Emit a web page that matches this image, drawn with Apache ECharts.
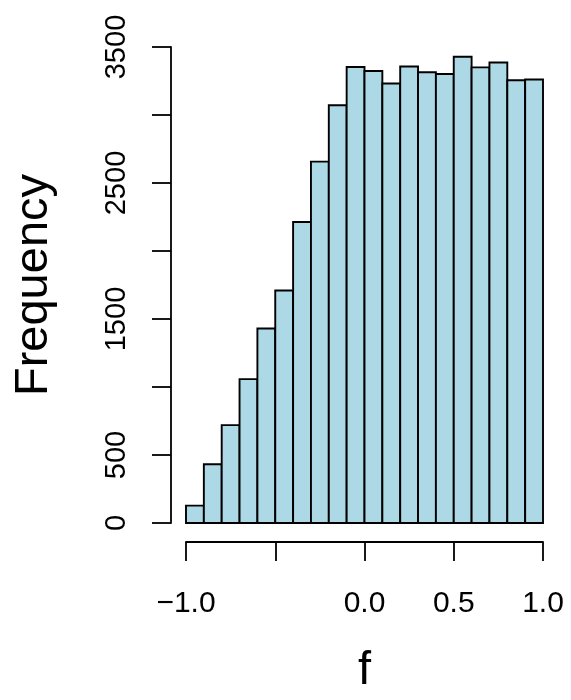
<!DOCTYPE html>
<html>
<head>
<meta charset="utf-8">
<title>Histogram of f</title>
<script src="https://cdn.jsdelivr.net/npm/echarts@6/dist/echarts.min.js"></script>
<style>
  html, body { margin: 0; padding: 0; background: #fff; }
  #chart { width: 571px; height: 700px; }
</style>
</head>
<body>
<div id="chart"></div>
<script>
// Histogram bins of f (width 0.1) and their counts
const binEdges = [-1.0, -0.9, -0.8, -0.7, -0.6, -0.5, -0.4, -0.3, -0.2, -0.1, 0.0,
                  0.1, 0.2, 0.3, 0.4, 0.5, 0.6, 0.7, 0.8, 0.9, 1.0];
const counts = [128, 432, 720, 1058, 1430, 1710, 2213, 2657, 3072, 3353,
                3324, 3232, 3357, 3314, 3302, 3428, 3350, 3386, 3256, 3261];

// Ticks that carry a printed label (the others stay bare)
const xTickLabels = [-1.0, 0.0, 0.5, 1.0];
const yTickLabels = [0, 500, 1500, 2500, 3500];

const FONT = '"Liberation Sans", Arial, Helvetica, sans-serif';

const bins = counts.map((c, i) => [binEdges[i], binEdges[i + 1], c]);

function fmtX(v) {
  if (!xTickLabels.some(t => Math.abs(t - v) < 1e-9)) return '';
  const s = Math.abs(v).toFixed(1);
  return v < 0 ? '\u2212' + s : s;
}
function fmtY(v) {
  return yTickLabels.indexOf(v) >= 0 ? String(v) : '';
}

const chart = echarts.init(document.getElementById('chart'), null, { renderer: 'canvas' });

chart.setOption({
  backgroundColor: '#ffffff',
  animation: false,
  grid: { left: 186, right: 28, top: 47, bottom: 170, containLabel: false },
  xAxis: {
    type: 'value',
    min: -1, max: 1, interval: 0.5,
    offset: 19,
    name: 'f',
    nameLocation: 'middle',
    nameGap: 106,
    nameTextStyle: { fontFamily: FONT, fontSize: 47, color: '#000' },
    axisLine: { show: true, onZero: false, lineStyle: { color: '#000', width: 1.8 } },
    axisTick: { show: true, length: 19, lineStyle: { color: '#000', width: 1.8 } },
    axisLabel: {
      formatter: fmtX, margin: 47, fontFamily: FONT, fontSize: 30, color: '#000',
      hideOverlap: false, showMinLabel: true, showMaxLabel: true
    },
    splitLine: { show: false }
  },
  yAxis: {
    type: 'value',
    min: 0, max: 3500, interval: 500,
    offset: 15,
    name: 'Frequency',
    nameLocation: 'middle',
    nameGap: 113,
    nameRotate: 90,
    nameTextStyle: { fontFamily: FONT, fontSize: 47, color: '#000' },
    axisLine: { show: true, onZero: false, lineStyle: { color: '#000', width: 1.8 } },
    axisTick: { show: true, length: 19, lineStyle: { color: '#000', width: 1.8 } },
    axisLabel: {
      formatter: fmtY, rotate: 90, margin: 40, fontFamily: FONT, fontSize: 29, color: '#000',
      hideOverlap: false, showMinLabel: true, showMaxLabel: true
    },
    splitLine: { show: false }
  },
  series: [{
    type: 'custom',
    data: bins,
    encode: { x: [0, 1], y: 2 },
    renderItem: function (params, api) {
      const p0 = api.coord([api.value(0), 0]);
      const p1 = api.coord([api.value(1), api.value(2)]);
      return {
        type: 'rect',
        shape: { x: p0[0], y: p1[1], width: p1[0] - p0[0], height: p0[1] - p1[1] },
        style: { fill: '#ADD8E6', stroke: '#000', lineWidth: 1.9 }
      };
    }
  }]
});
</script>
</body>
</html>
